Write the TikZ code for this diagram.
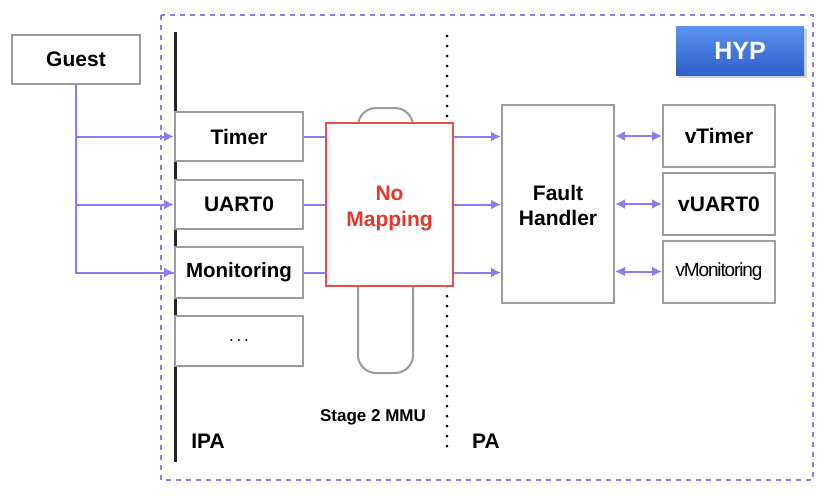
\documentclass[tikz,border=0pt]{standalone}
\usepackage{fontspec}
\setmainfont{Liberation Sans}
\usetikzlibrary{arrows.meta,shadows,calc}
\definecolor{lav}{HTML}{8C7CF4}
\definecolor{boxgray}{HTML}{9C9C9C}
\definecolor{mapred}{HTML}{E8504F}
\definecolor{maptext}{HTML}{E0382B}
\definecolor{hyptop}{HTML}{5C92EE}
\definecolor{hypbot}{HTML}{2E5FCC}
\newcommand{\twolines}[2]{\raisebox{-4pt}[\height][\depth]{\begin{tabular}{@{}c@{}}#1\\[-0.5pt]#2\end{tabular}}}
\begin{document}
\begin{tikzpicture}[x=1pt,y=-1pt,
  gbox/.style={draw=boxgray, line width=2pt, fill=white, inner sep=0pt,
    font=\bfseries\fontsize{21}{26}\selectfont, align=center},
  conn/.style={draw=lav, line width=2pt},
  arr/.style={conn, -{Latex[length=10pt,width=10pt]}},
  darr/.style={conn, {Latex[length=10pt,width=10pt]}-{Latex[length=10pt,width=10pt]}},
  lbl/.style={font=\bfseries\fontsize{21}{26}\selectfont, inner sep=0pt}]
\useasboundingbox (0,0) rectangle (833,501);
% HYP frame
\draw[lav, line width=2pt, dash pattern=on 5pt off 5pt] (161,15) rectangle (813,480);
% HYP badge
\node[minimum width=128pt, minimum height=49pt, inner sep=0pt,
  top color=hyptop, bottom color=hypbot, draw=none,
  drop shadow={shadow xshift=3pt, shadow yshift=-3pt, opacity=0.35},
  text=white, font=\bfseries\fontsize{25}{28}\selectfont] (hyp) at (740,50.5) {HYP};
% IPA line and PA separator
\coordinate (ipatop) at (175,32);
\coordinate (ipabot) at (175,462);
\draw[line width=3pt, black!85] (ipatop) -- (ipabot);
\coordinate (patop) at (447,36);
\coordinate (pabot) at (447,455);
\draw[line width=3pt, line cap=round, dash pattern=on 0pt off 10pt] (patop) -- (pabot);
% Guest
\node[gbox, minimum width=128pt, minimum height=49pt] (guest) at (76,59.5) {Guest};
% IPA boxes
\node[gbox, minimum width=128pt, minimum height=49pt] (timer) at (239,136.5) {Timer};
\node[gbox, minimum width=128pt, minimum height=49pt] (uart) at (239,204.5) {UART0};
\node[gbox, minimum width=128pt, minimum height=51pt, font=\bfseries\fontsize{20.5}{26}\selectfont] (mon) at (239,272.5) {Monitoring};
\node[gbox, minimum width=128pt, minimum height=50pt, font=\fontsize{17}{20}\selectfont] (dots) at (239,341) {.\,.\,.};
% Stage 2 MMU pill
\node[draw=boxgray, line width=2pt, rounded corners=18pt, minimum width=55pt, minimum height=265pt] (pill) at (385.5,240.5) {};
\node[draw=mapred, line width=2pt, fill=white, minimum width=127pt, minimum height=163pt,
  text=maptext, font=\bfseries\fontsize{21}{26}\selectfont, inner sep=0pt] (nomap) at (389.5,204.5) {\twolines{No}{Mapping}};
\node[font=\bfseries\fontsize{17}{20}\selectfont, inner sep=0pt] (s2) at (373,417) {Stage 2 MMU};
% Fault handler
\node[gbox, minimum width=112pt, minimum height=198pt] (fault) at (558,204) {\twolines{Fault}{Handler}};
% virtual devices
\node[gbox, minimum width=112pt, minimum height=62pt] (vtimer) at (719,136) {vTimer};
\node[gbox, minimum width=112pt, minimum height=62pt] (vuart) at (719,204) {vUART0};
\node[gbox, minimum width=112pt, minimum height=62pt, font=\fontsize{19}{22}\selectfont] (vmon) at (719,271.5) {\addfontfeatures{LetterSpace=-6}vMonitoring};
% labels
\node[lbl] (ipa) at (208,441) {IPA};
\node[lbl] (pa) at (486,441) {PA};
% Guest connectors
\coordinate (g1) at (guest.south |- timer.west);
\coordinate (g2) at (guest.south |- uart.west);
\draw[conn] (guest.south) |- (mon.west);
\draw[arr] (g1) -- (timer.west);
\draw[arr] (g2) -- (uart.west);
\draw[arr] ($(guest.south |- mon.west)+(1,0)$) -- (mon.west);
% IPA boxes to stage 2
\draw[conn] (timer.east) -- (nomap.west |- timer.east);
\draw[conn] (uart.east) -- (nomap.west |- uart.east);
\draw[conn] (mon.east) -- (nomap.west |- mon.east);
% stage 2 to fault handler
\draw[arr] (nomap.east |- timer.east) -- (fault.west |- timer.east);
\draw[arr] (nomap.east |- uart.east) -- (fault.west |- uart.east);
\draw[arr] (nomap.east |- mon.east) -- (fault.west |- mon.east);
% fault handler to virtual devices
\draw[darr] (fault.east |- vtimer.west) -- (vtimer.west);
\draw[darr] (fault.east |- vuart.west) -- (vuart.west);
\draw[darr] (fault.east |- vmon.west) -- (vmon.west);
\end{tikzpicture}
\end{document}
